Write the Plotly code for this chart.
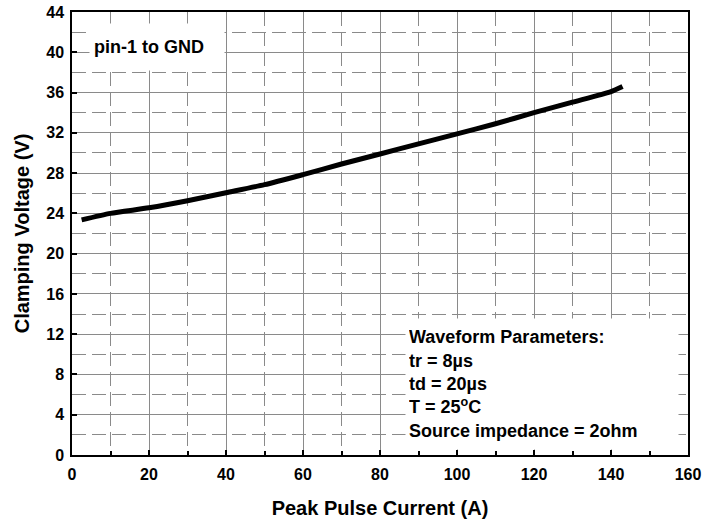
import plotly.graph_objects as go

current_a = [2.5, 10, 20, 30, 40, 50, 60, 70, 80, 90, 100, 110, 120, 130, 140, 143]
clamp_v = [23.35, 24.0, 24.55, 25.25, 26.05, 26.85, 27.85, 28.9, 29.9, 30.9, 31.9, 32.9, 34.0, 35.05, 36.1, 36.6]

x_ticks = [0, 20, 40, 60, 80, 100, 120, 140, 160]
y_ticks = [0, 4, 8, 12, 16, 20, 24, 28, 32, 36, 40, 44]

note_pin = "pin-1 to GND"
note_wave = ("Waveform Parameters:<br>tr = 8\u00b5s<br>td = 20\u00b5s<br>"
             "T = 25<sup>o</sup>C<br>Source impedance = 2ohm")

font_family = "Liberation Sans, Arial, sans-serif"
grid_col = "#8a8a8a"

fig = go.Figure()
fig.add_trace(go.Scatter(
    x=current_a, y=clamp_v, mode="lines",
    line=dict(color="black", width=5, shape="spline", smoothing=0.6),
    showlegend=False, hoverinfo="skip",
))

axis_common = dict(
    showline=True, linecolor="black", linewidth=1.5, mirror=True,
    gridcolor=grid_col, gridwidth=1, zeroline=False, automargin=False,
    ticks="inside", ticklen=5, tickcolor="black", tickwidth=1.5,
    ticklabeloverflow="allow",
    tickfont=dict(family=font_family, size=16, color="black", weight="bold"),
)

fig.update_xaxes(
    range=[0, 160], tickvals=x_ticks, ticktext=[str(v) for v in x_ticks],
    ticklabelstandoff=4,
    minor=dict(dtick=10, tick0=0, showgrid=True, griddash="14px,6px",
               gridcolor=grid_col, gridwidth=1, ticks="inside", ticklen=4,
               tickcolor="black"),
    title=dict(text="Peak Pulse Current (A)", standoff=19,
               font=dict(family=font_family, size=20, color="black", weight="bold")),
    **axis_common,
)
fig.update_yaxes(
    range=[0, 44], tickvals=y_ticks, ticktext=[str(v) for v in y_ticks],
    ticklabelstandoff=3,
    minor=dict(dtick=2, tick0=0, showgrid=True, griddash="14px,6px",
               gridcolor=grid_col, gridwidth=1),
    title=dict(text="Clamping Voltage (V)", standoff=11,
               font=dict(family=font_family, size=20, color="black", weight="bold")),
    **axis_common,
)

fig.add_annotation(
    x=4.4, y=40.5, xref="x", yref="y", xanchor="left", yanchor="middle",
    text=note_pin, showarrow=False, align="left", width=126, height=38,
    bgcolor="white", borderpad=4,
    font=dict(family=font_family, size=18, color="black", weight="bold"),
)
fig.add_annotation(
    x=86.5, y=7.1, xref="x", yref="y", xanchor="left", yanchor="middle",
    text=note_wave, showarrow=False, align="left", width=266, height=124,
    bgcolor="white", borderpad=3,
    font=dict(family=font_family, size=18, color="black", weight="bold"),
)

fig.update_layout(
    width=704, height=527,
    margin=dict(l=72, r=16, t=12, b=72),
    paper_bgcolor="white", plot_bgcolor="white",
    font=dict(family=font_family, color="black"),
)

fig.write_html(
    "out.html",
    config={"displayModeBar": False},
    post_script="document.body.style.margin='0';document.body.style.overflow='hidden';",
)
